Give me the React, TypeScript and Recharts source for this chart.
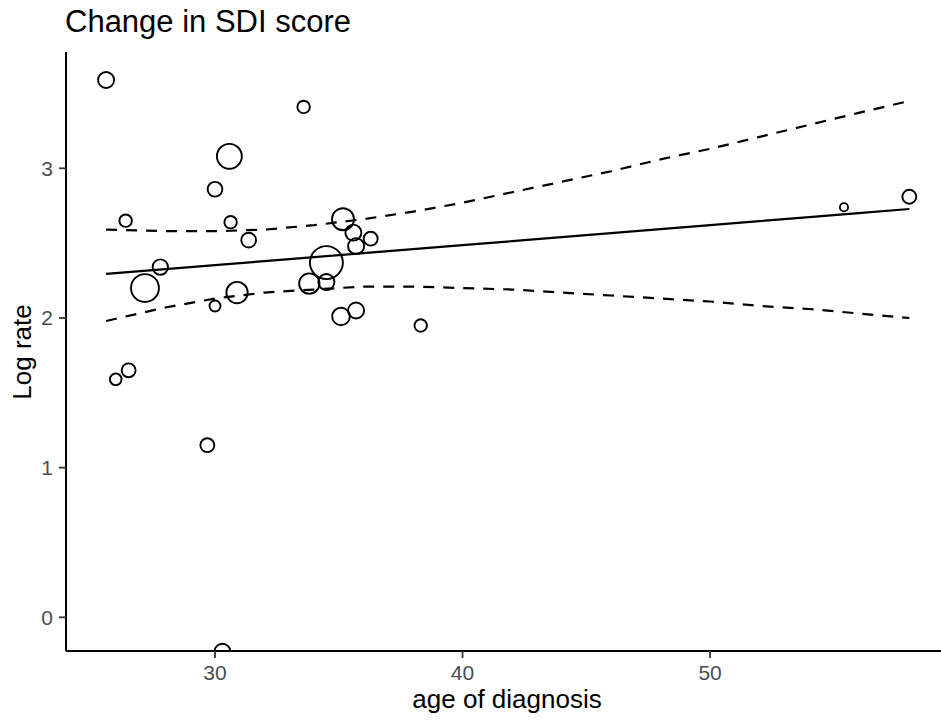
import { ComposedChart, Line, Scatter, XAxis, YAxis } from "recharts";

// regression line + 95% band
const ages = [25.6, 28, 30, 32, 34, 36, 38, 40, 42, 44, 46, 48, 50, 52, 54, 56, 58.05];
const fitRate = [2.294, 2.326, 2.353, 2.380, 2.406, 2.433, 2.460, 2.487, 2.513, 2.540, 2.567, 2.594, 2.620, 2.647, 2.674, 2.701, 2.728];
const upperRate = [2.59, 2.58, 2.58, 2.59, 2.62, 2.66, 2.71, 2.77, 2.84, 2.91, 2.98, 3.06, 3.13, 3.21, 3.29, 3.37, 3.45];
const lowerRate = [1.98, 2.07, 2.13, 2.17, 2.19, 2.21, 2.21, 2.20, 2.19, 2.17, 2.15, 2.13, 2.11, 2.08, 2.06, 2.03, 2.00];

// studies: age of diagnosis, log rate, weight (bubble size)
const studyAge = [25.6, 33.58, 30.58, 30.0, 26.39, 30.63, 35.17, 35.59, 36.29, 31.36, 35.7, 27.79, 34.5, 27.17, 33.81, 34.5, 30.89, 30.0, 35.09, 35.7, 38.31, 25.99, 26.51, 29.69, 30.3, 55.41, 58.05];
const studyRate = [3.59, 3.41, 3.08, 2.86, 2.65, 2.64, 2.66, 2.57, 2.53, 2.52, 2.48, 2.34, 2.37, 2.2, 2.23, 2.24, 2.17, 2.08, 2.01, 2.05, 1.95, 1.59, 1.65, 1.15, -0.23, 2.74, 2.81];
const studyWeight = [53, 32, 128, 45, 32, 32, 100, 53, 40, 45, 53, 49, 225, 161, 86, 53, 94, 25, 64, 53, 32, 28, 40, 40, 53, 14, 40];

const xTicks = [30, 40, 50];
const yTicks = [0, 1, 2, 3];

const FONT = '"Liberation Sans", Arial, Helvetica, sans-serif';

const lineData = ages.map((x, i) => ({ x, fit: fitRate[i], upper: upperRate[i], lower: lowerRate[i] }));
const points = studyAge.map((x, i) => ({ x, y: studyRate[i], w: studyWeight[i] }));

const Bubble = (props: any) => {
  const { cx, cy, payload } = props;
  if (cx == null || cy == null) return null;
  return <circle cx={cx} cy={cy} r={1.1 * Math.sqrt(payload.w)} fill="none" stroke="#000" strokeWidth={1.9} />;
};

const tickStyle = { fill: "#4d4d4d", fontSize: 21, fontFamily: FONT };

export default function App() {
  return (
    <div style={{ position: "absolute", left: 0, top: 0, width: 941, height: 724, overflow: "hidden", background: "#fff" }}>
      <ComposedChart width={941} height={724} data={lineData} margin={{ top: 52, right: 0, bottom: 0, left: 0 }}>
        <XAxis
          type="number"
          dataKey="x"
          domain={[23.98, 59.33]}
          ticks={xTicks}
          allowDataOverflow
          height={73}
          tickSize={7}
          tickMargin={7}
          tick={tickStyle}
          tickLine={{ stroke: "#333", strokeWidth: 1.8 }}
          axisLine={{ stroke: "#000", strokeWidth: 2 }}
        />
        <YAxis
          type="number"
          domain={[-0.225, 3.777]}
          ticks={yTicks}
          allowDataOverflow
          width={66}
          tickSize={7}
          tickMargin={6}
          tick={tickStyle}
          tickLine={{ stroke: "#333", strokeWidth: 1.8 }}
          axisLine={{ stroke: "#000", strokeWidth: 2 }}
        />
        <Scatter data={points} dataKey="y" shape={<Bubble />} isAnimationActive={false} />
        <Line type="linear" dataKey="upper" stroke="#000" strokeWidth={2.2} strokeDasharray="11 9" dot={false} activeDot={false} isAnimationActive={false} />
        <Line type="linear" dataKey="lower" stroke="#000" strokeWidth={2.2} strokeDasharray="11 9" dot={false} activeDot={false} isAnimationActive={false} />
        <Line type="linear" dataKey="fit" stroke="#000" strokeWidth={2.2} dot={false} activeDot={false} isAnimationActive={false} />
      </ComposedChart>
      <svg width={941} height={724} style={{ position: "absolute", left: 0, top: 0, pointerEvents: "none" }}>
        <text x={65} y={32} fontSize={31} fontFamily={FONT} fill="#000">Change in SDI score</text>
        <text x={507} y={708} fontSize={26} fontFamily={FONT} fill="#000" textAnchor="middle">age of diagnosis</text>
        <text x={31} y={352} fontSize={26} fontFamily={FONT} fill="#000" textAnchor="middle" transform="rotate(-90 31 352)">Log rate</text>
      </svg>
    </div>
  );
}
